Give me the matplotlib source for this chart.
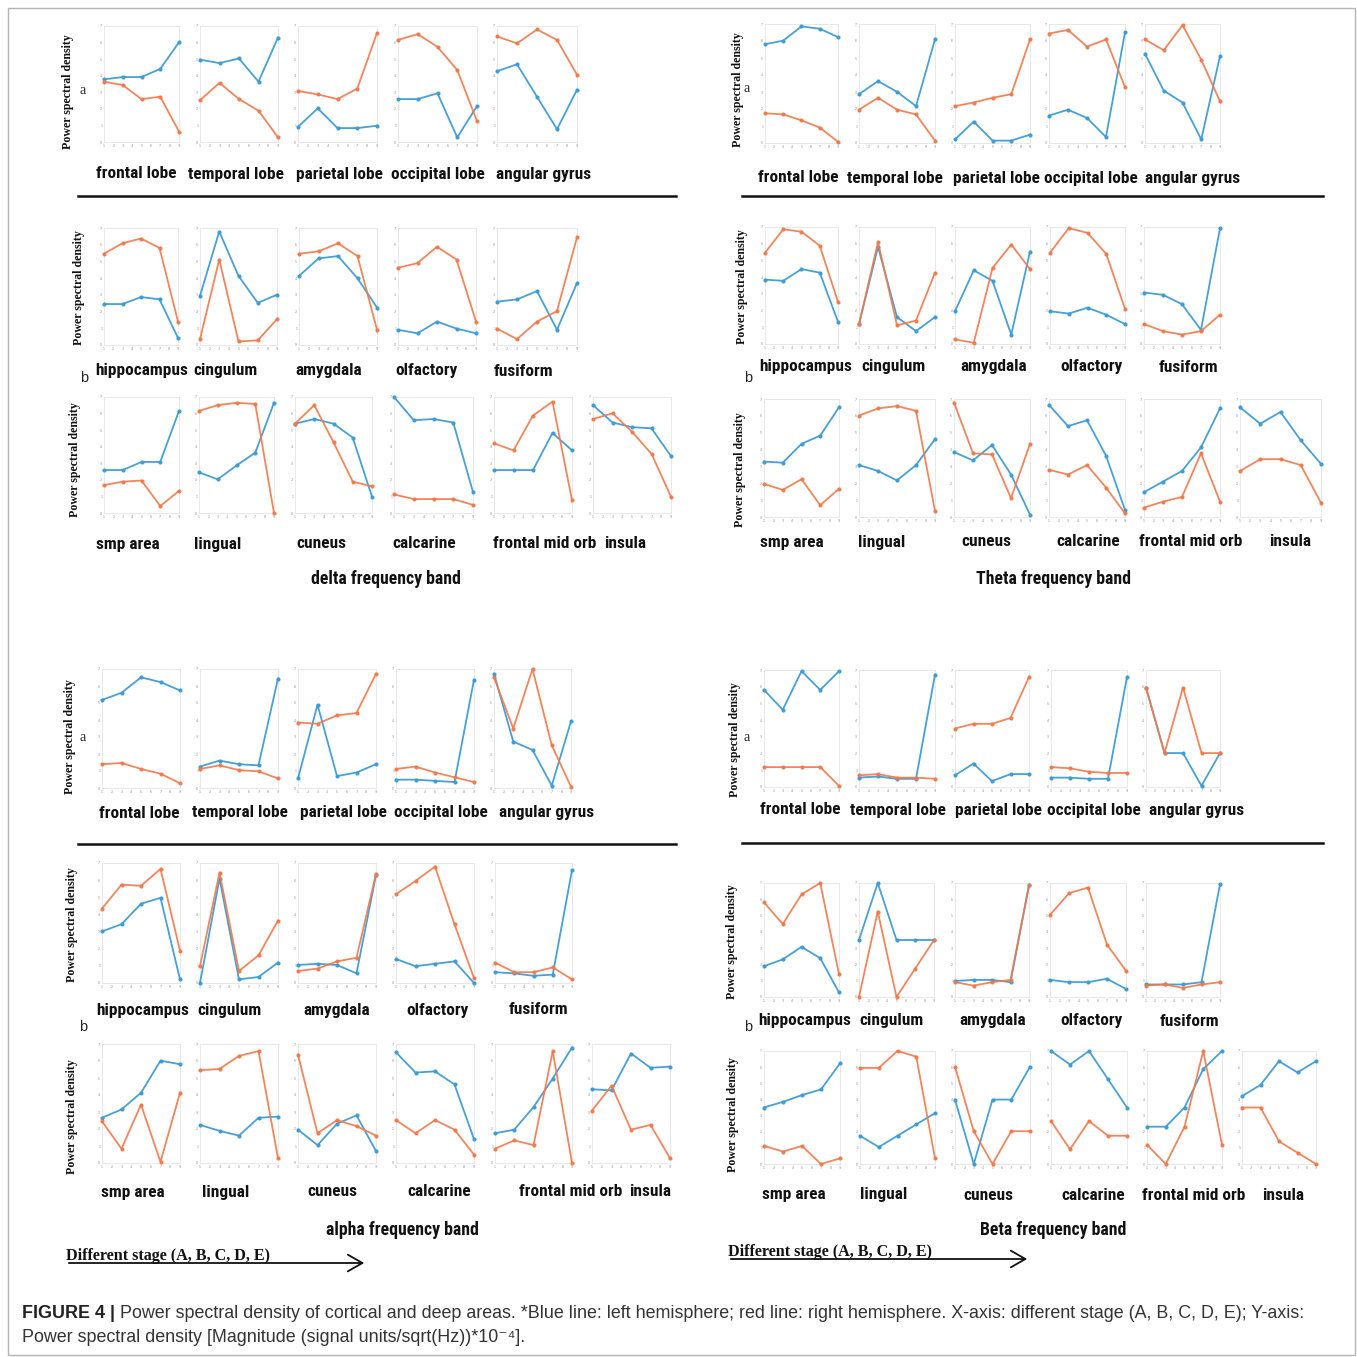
import matplotlib
matplotlib.use('Agg')
import matplotlib.pyplot as plt
from matplotlib import font_manager
from matplotlib.patches import Rectangle, FancyArrowPatch
from matplotlib.lines import Line2D

# ---------------- DATA ----------------
STAGES = ['A', 'B', 'C', 'D', 'E']
STAGE_POS = [1, 3, 5, 7, 9]
X_TICKS = [1, 2, 3, 4, 5, 6, 7, 8, 9]
Y_TICKS = [0, 1/7, 2/7, 3/7, 4/7, 5/7, 6/7, 1]

ROW_A_REGIONS = ['frontal lobe', 'temporal lobe', 'parietal lobe', 'occipital lobe', 'angular gyrus']
ROW_B1_REGIONS = ['hippocampus', 'cingulum', 'amygdala', 'olfactory', 'fusiform']
ROW_B2_REGIONS = ['smp area', 'lingual', 'cuneus', 'calcarine', 'frontal mid orb', 'insula']

BANDS = ['delta frequency band', 'Theta frequency band', 'alpha frequency band', 'Beta frequency band']

# delta band (blue = left hemisphere, orange = right hemisphere), normalised PSD
DELTA_A_LEFT = [[0.54, 0.56, 0.56, 0.63, 0.86], [0.71, 0.68, 0.72, 0.52, 0.90],
                [0.13, 0.29, 0.12, 0.12, 0.14], [0.37, 0.37, 0.42, 0.04, 0.31],
                [0.61, 0.67, 0.39, 0.11, 0.45]]
DELTA_A_RIGHT = [[0.52, 0.49, 0.37, 0.39, 0.09], [0.36, 0.51, 0.37, 0.27, 0.04],
                 [0.44, 0.41, 0.37, 0.46, 0.94], [0.88, 0.93, 0.82, 0.62, 0.18],
                 [0.91, 0.85, 0.97, 0.88, 0.58]]
DELTA_B1_LEFT = [[0.35, 0.35, 0.41, 0.39, 0.06], [0.42, 0.97, 0.59, 0.36, 0.43],
                 [0.59, 0.74, 0.76, 0.57, 0.32], [0.13, 0.10, 0.20, 0.14, 0.10],
                 [0.37, 0.39, 0.46, 0.13, 0.53]]
DELTA_B1_RIGHT = [[0.78, 0.87, 0.91, 0.83, 0.20], [0.05, 0.73, 0.03, 0.04, 0.22],
                  [0.78, 0.80, 0.87, 0.76, 0.13], [0.66, 0.70, 0.84, 0.73, 0.20],
                  [0.14, 0.05, 0.20, 0.29, 0.92]]
DELTA_B2_LEFT = [[0.37, 0.37, 0.44, 0.44, 0.88], [0.35, 0.29, 0.41, 0.52, 0.95],
                 [0.77, 0.81, 0.77, 0.65, 0.14], [1.00, 0.80, 0.81, 0.78, 0.18],
                 [0.37, 0.37, 0.37, 0.69, 0.54], [0.93, 0.78, 0.74, 0.73, 0.49]]
DELTA_B2_RIGHT = [[0.24, 0.27, 0.28, 0.06, 0.19], [0.88, 0.93, 0.95, 0.94, 0.00],
                  [0.77, 0.93, 0.61, 0.27, 0.23], [0.16, 0.12, 0.12, 0.12, 0.07],
                  [0.60, 0.54, 0.84, 0.96, 0.11], [0.81, 0.86, 0.70, 0.51, 0.14]]

# theta band
THETA_A_LEFT = [[0.83, 0.86, 0.98, 0.96, 0.89], [0.41, 0.52, 0.43, 0.31, 0.87],
                [0.03, 0.18, 0.02, 0.02, 0.07], [0.23, 0.28, 0.21, 0.05, 0.93],
                [0.75, 0.44, 0.34, 0.03, 0.73]]
THETA_A_RIGHT = [[0.25, 0.24, 0.19, 0.13, 0.01], [0.28, 0.38, 0.28, 0.24, 0.02],
                 [0.31, 0.34, 0.38, 0.41, 0.87], [0.92, 0.95, 0.81, 0.87, 0.47],
                 [0.87, 0.78, 0.99, 0.70, 0.35]]
THETA_B1_LEFT = [[0.55, 0.54, 0.64, 0.61, 0.19], [0.17, 0.83, 0.23, 0.11, 0.23],
                 [0.28, 0.63, 0.54, 0.08, 0.79], [0.28, 0.26, 0.31, 0.25, 0.17],
                 [0.44, 0.42, 0.34, 0.12, 0.99]]
THETA_B1_RIGHT = [[0.78, 0.98, 0.96, 0.84, 0.36], [0.17, 0.87, 0.16, 0.20, 0.61],
                  [0.04, 0.01, 0.65, 0.85, 0.64], [0.78, 0.99, 0.95, 0.77, 0.30],
                  [0.17, 0.11, 0.08, 0.11, 0.25]]
THETA_B2_LEFT = [[0.47, 0.46, 0.62, 0.69, 0.93], [0.44, 0.39, 0.31, 0.44, 0.66],
                 [0.55, 0.48, 0.61, 0.36, 0.02], [0.95, 0.77, 0.82, 0.52, 0.06],
                 [0.21, 0.30, 0.39, 0.59, 0.92], [0.93, 0.79, 0.89, 0.65, 0.45]]
THETA_B2_RIGHT = [[0.28, 0.23, 0.32, 0.10, 0.24], [0.86, 0.92, 0.94, 0.90, 0.05],
                  [0.97, 0.54, 0.53, 0.16, 0.62], [0.40, 0.36, 0.44, 0.25, 0.03],
                  [0.08, 0.13, 0.17, 0.54, 0.13], [0.39, 0.49, 0.49, 0.44, 0.12]]

# alpha band
ALPHA_A_LEFT = [[0.74, 0.80, 0.93, 0.89, 0.82], [0.18, 0.23, 0.20, 0.19, 0.92],
                [0.08, 0.70, 0.10, 0.13, 0.20], [0.07, 0.07, 0.06, 0.05, 0.91],
                [0.96, 0.39, 0.32, 0.02, 0.56]]
ALPHA_A_RIGHT = [[0.20, 0.21, 0.16, 0.12, 0.04], [0.16, 0.19, 0.15, 0.14, 0.08],
                 [0.55, 0.54, 0.61, 0.63, 0.96], [0.16, 0.18, 0.13, 0.09, 0.05],
                 [0.93, 0.50, 1.00, 0.36, 0.01]]
ALPHA_B1_LEFT = [[0.43, 0.49, 0.66, 0.71, 0.03], [0.00, 0.87, 0.03, 0.05, 0.17],
                 [0.15, 0.16, 0.15, 0.08, 0.90], [0.20, 0.14, 0.16, 0.18, 0.00],
                 [0.09, 0.08, 0.06, 0.07, 0.94]]
ALPHA_B1_RIGHT = [[0.62, 0.82, 0.81, 0.95, 0.27], [0.14, 0.92, 0.10, 0.23, 0.52],
                  [0.10, 0.12, 0.18, 0.21, 0.91], [0.74, 0.85, 0.97, 0.49, 0.04],
                  [0.17, 0.09, 0.09, 0.13, 0.03]]
ALPHA_B2_LEFT = [[0.38, 0.45, 0.59, 0.86, 0.83], [0.32, 0.27, 0.23, 0.38, 0.39],
                 [0.28, 0.15, 0.33, 0.40, 0.10], [0.93, 0.76, 0.77, 0.66, 0.20],
                 [0.25, 0.28, 0.47, 0.71, 0.97], [0.62, 0.61, 0.92, 0.80, 0.81]]
ALPHA_B2_RIGHT = [[0.35, 0.12, 0.49, 0.01, 0.59], [0.78, 0.79, 0.90, 0.94, 0.04],
                  [0.91, 0.25, 0.36, 0.31, 0.23], [0.36, 0.25, 0.36, 0.28, 0.07],
                  [0.12, 0.19, 0.15, 0.94, 0.00], [0.44, 0.65, 0.28, 0.32, 0.04]]

# beta band
BETA_A_LEFT = [[0.83, 0.66, 0.99, 0.83, 0.99], [0.08, 0.09, 0.07, 0.07, 0.96],
               [0.10, 0.20, 0.05, 0.11, 0.11], [0.08, 0.08, 0.07, 0.07, 0.94],
               [0.85, 0.29, 0.29, 0.01, 0.29]]
BETA_A_RIGHT = [[0.17, 0.17, 0.17, 0.17, 0.01], [0.10, 0.11, 0.08, 0.08, 0.07],
                [0.50, 0.54, 0.54, 0.59, 0.94], [0.17, 0.16, 0.13, 0.12, 0.12],
                [0.85, 0.29, 0.85, 0.29, 0.29]]
BETA_B1_LEFT = [[0.27, 0.33, 0.44, 0.34, 0.04], [0.50, 1.00, 0.50, 0.50, 0.50],
                [0.14, 0.15, 0.15, 0.13, 0.98], [0.15, 0.13, 0.13, 0.16, 0.07],
                [0.11, 0.11, 0.11, 0.13, 0.99]]
BETA_B1_RIGHT = [[0.83, 0.64, 0.90, 1.00, 0.20], [0.00, 0.75, 0.00, 0.25, 0.50],
                 [0.13, 0.10, 0.13, 0.15, 0.98], [0.72, 0.91, 0.96, 0.46, 0.23],
                 [0.10, 0.11, 0.08, 0.11, 0.13]]
BETA_B2_LEFT = [[0.50, 0.55, 0.61, 0.66, 0.89], [0.25, 0.15, 0.25, 0.35, 0.45],
                [0.57, 0.00, 0.57, 0.57, 0.86], [1.00, 0.88, 1.00, 0.75, 0.50],
                [0.33, 0.33, 0.50, 0.84, 1.00], [0.60, 0.70, 0.91, 0.81, 0.91]]
BETA_B2_RIGHT = [[0.16, 0.11, 0.16, 0.00, 0.05], [0.85, 0.85, 1.00, 0.95, 0.05],
                 [0.86, 0.29, 0.00, 0.29, 0.29], [0.38, 0.13, 0.38, 0.25, 0.25],
                 [0.17, 0.00, 0.33, 1.00, 0.17], [0.50, 0.50, 0.20, 0.10, 0.00]]

CAPTION_BOLD = 'FIGURE 4 |'
CAPTION_1 = (' Power spectral density of cortical and deep areas. *Blue line: left hemisphere; '
             'red line: right hemisphere. X-axis: different stage (A, B, C, D, E); Y-axis:')
CAPTION_2 = 'Power spectral density [Magnitude (signal units/sqrt(Hz))*10\u207b\u2074].'
STAGE_NOTE = 'Different stage (A, B, C, D, E)'
YLABEL = 'Power spectral density'

# ---------------- STYLE / LAYOUT ----------------
W = H = 1357
BLUE = '#3d9bd6'
ORANGE = '#f2784a'

names = {f.name for f in font_manager.fontManager.ttflist}
NARROW = None
for cand in ['Liberation Sans Narrow', 'Roboto Condensed', 'DejaVu Sans Condensed',
             'Open Sans Condensed', 'Arial Narrow']:
    if cand in names:
        NARROW = cand
        break
if NARROW is None:
    NARROW = 'Liberation Sans'
    LABEL_SIZE = 10.5
else:
    LABEL_SIZE = 12.4
SANS = ['Liberation Sans', 'DejaVu Sans']
SERIF = ['Liberation Serif', 'DejaVu Serif']

fig = plt.figure(figsize=(W / 100, H / 100), dpi=100)
fig.patch.set_facecolor('white')


def fxy(x, y):
    return x / W, 1 - y / H


def draw_panel(x0, x1, y0, y1, left, right):
    ax = fig.add_axes([x0 / W, 1 - y1 / H, (x1 - x0) / W, (y1 - y0) / H])
    ax.plot(STAGE_POS, left, color=BLUE, lw=1.3, marker='o', ms=2.0, clip_on=False, zorder=3, alpha=0.95)
    ax.plot(STAGE_POS, right, color=ORANGE, lw=1.3, marker='o', ms=2.0, clip_on=False, zorder=4, alpha=0.9)
    ax.set_xlim(1, 9)
    ax.set_ylim(0, 1)
    ax.set_xticks(X_TICKS)
    ax.set_yticks(Y_TICKS)
    ax.set_xticklabels([str(t) for t in X_TICKS])
    ax.set_yticklabels([str(i) for i in range(len(Y_TICKS))])
    ax.tick_params(length=0, labelsize=2.3, labelcolor='#8c8c8c', pad=1.2)
    for s in ax.spines.values():
        s.set_color('#e4e4e4')
        s.set_linewidth(0.6)
    ax.set_facecolor('white')
    return ax


def draw_row(xs, y0, y1, lefts, rights, labels, label_x, label_y, ylab_xy):
    for (x0, x1), l, r in zip(xs, lefts, rights):
        draw_panel(x0, x1, y0, y1, l, r)
    for lab, lx in zip(labels, label_x):
        fig.text(*fxy(lx, label_y), lab, ha='center', va='center', family=[NARROW, 'DejaVu Sans'],
                 fontweight='bold', fontsize=LABEL_SIZE, color='#111111')
    fig.text(*fxy(*ylab_xy), YLABEL, rotation=90, ha='center', va='center', family=SERIF,
             fontweight='bold', fontsize=8.6, color='#111111')


quadrants = [
    dict(band=BANDS[0], data=[(DELTA_A_LEFT, DELTA_A_RIGHT), (DELTA_B1_LEFT, DELTA_B1_RIGHT), (DELTA_B2_LEFT, DELTA_B2_RIGHT)],
         xs=[[(104, 179), (200, 278), (298, 377), (398, 477), (497, 577)],
             [(104, 178), (200, 277), (299, 377), (398, 476), (497, 577)],
             [(104, 179), (199, 274), (295, 372), (394, 473), (494, 572), (593, 671)]],
         ys=[(26, 142), (228, 345), (397, 513)],
         lx=[[136, 236, 339, 438, 544], [142, 226, 329, 427, 523], [128, 218, 321, 424, 545, 625]],
         ly=[174, 371, 544], ylab=[(68, 92), (79, 288), (75, 460)],
         a=(83, 90), b=(84, 378), hline=(78, 676, 196), title=(386, 579), stage=None),
    dict(band=BANDS[1], data=[(THETA_A_LEFT, THETA_A_RIGHT), (THETA_B1_LEFT, THETA_B1_RIGHT), (THETA_B2_LEFT, THETA_B2_RIGHT)],
         xs=[[(765, 838), (859, 935), (955, 1030), (1049, 1125), (1145, 1220)],
             [(765, 838), (859, 935), (955, 1030), (1050, 1125), (1144, 1220)],
             [(764, 839), (859, 935), (954, 1030), (1049, 1125), (1144, 1220), (1240, 1321)]],
         ys=[(24, 143), (227, 344), (399, 517)],
         lx=[[798, 895, 996, 1091, 1193], [806, 893, 994, 1092, 1188], [792, 882, 986, 1088, 1191, 1290]],
         ly=[178, 367, 542], ylab=[(738, 90), (742, 287), (740, 470)],
         a=(747, 88), b=(748, 378), hline=(742, 1323, 196), title=(1053, 579), stage=None),
    dict(band=BANDS[2], data=[(ALPHA_A_LEFT, ALPHA_A_RIGHT), (ALPHA_B1_LEFT, ALPHA_B1_RIGHT), (ALPHA_B2_LEFT, ALPHA_B2_RIGHT)],
         xs=[[(102, 180), (200, 278), (298, 376), (396, 474), (494, 571)],
             [(102, 180), (200, 278), (298, 376), (396, 474), (495, 572)],
             [(102, 180), (200, 278), (298, 376), (396, 474), (495, 572), (592, 670)]],
         ys=[(669, 788), (863, 983), (1044, 1163)],
         lx=[[139, 240, 343, 441, 547], [143, 229, 337, 438, 538], [133, 226, 332, 439, 571, 650]],
         ly=[813, 1010, 1192], ylab=[(70, 737), (72, 925), (72, 1117)],
         a=(83, 737), b=(83, 1027), hline=(78, 676, 844), title=(402, 1230), stage=(66, 1256, 367)),
    dict(band=BANDS[3], data=[(BETA_A_LEFT, BETA_A_RIGHT), (BETA_B1_LEFT, BETA_B1_RIGHT), (BETA_B2_LEFT, BETA_B2_RIGHT)],
         xs=[[(764, 839), (859, 935), (955, 1029), (1051, 1127), (1146, 1220)],
             [(764, 839), (859, 934), (955, 1029), (1050, 1126), (1146, 1220)],
             [(764, 840), (860, 935), (955, 1030), (1051, 1127), (1147, 1222), (1242, 1316)]],
         ys=[(670, 787), (883, 997), (1051, 1164)],
         lx=[[800, 898, 998, 1094, 1197], [805, 892, 993, 1092, 1189], [794, 884, 988, 1093, 1194, 1283]],
         ly=[810, 1021, 1195], ylab=[(735, 740), (732, 942), (733, 1115)],
         a=(747, 737), b=(748, 1027), hline=(742, 1323, 843), title=(1053, 1230), stage=(728, 1252, 1030)),
]

row_labels = [ROW_A_REGIONS, ROW_B1_REGIONS, ROW_B2_REGIONS]

for q in quadrants:
    for i in range(3):
        lefts, rights = q['data'][i]
        draw_row(q['xs'][i], q['ys'][i][0], q['ys'][i][1], lefts, rights, row_labels[i],
                 q['lx'][i], q['ly'][i], q['ylab'][i])
    fig.text(*fxy(*q['a']), 'a', ha='center', va='center', family=SERIF, fontsize=10, color='#222222')
    fig.text(*fxy(*q['b']), 'b', ha='center', va='center', family=SANS, fontsize=10.5, color='#222222')
    hx0, hx1, hy = q['hline']
    fig.add_artist(Line2D([hx0 / W, hx1 / W], [1 - hy / H, 1 - hy / H], color='#111111', lw=1.8))
    fig.text(*fxy(*q['title']), q['band'], ha='center', va='center', family=[NARROW, 'DejaVu Sans'],
             fontweight='bold', fontsize=LABEL_SIZE + 0.4, color='#111111')
    if q['stage'] is not None:
        sx, sy, ex = q['stage']
        fig.text(*fxy(sx, sy), STAGE_NOTE, ha='left', va='center', family=SERIF, fontweight='bold',
                 fontsize=11.6, color='#111111')
        fig.add_artist(FancyArrowPatch(
            fxy(sx, sy + 7), fxy(ex, sy + 7), transform=fig.transFigure,
            arrowstyle='->,head_length=7,head_width=4', lw=1.3, color='#111111',
            mutation_scale=1.5))

# outer frame
fig.add_artist(Rectangle((8 / W, 1 - 1355 / H), (1355 - 8) / W, (1355 - 8) / H, transform=fig.transFigure,
                         fill=False, edgecolor='#b5b5b5', lw=1.0))

# caption
CAP_SIZE = 12.9
t1 = fig.text(*fxy(22, 1313), CAPTION_BOLD, ha='left', va='center', family=SANS, fontweight='bold',
              fontsize=CAP_SIZE, color='#222222')
fig.canvas.draw()
bb = t1.get_window_extent(renderer=fig.canvas.get_renderer())
fig.text(bb.x1 / W, 1 - 1313 / H, CAPTION_1, ha='left', va='center', family=SANS, fontsize=CAP_SIZE,
         color='#333333')
fig.text(*fxy(22, 1338), CAPTION_2, ha='left', va='center', family=SANS, fontsize=CAP_SIZE, color='#333333')

fig.savefig('out.png', dpi=100, facecolor='white')
